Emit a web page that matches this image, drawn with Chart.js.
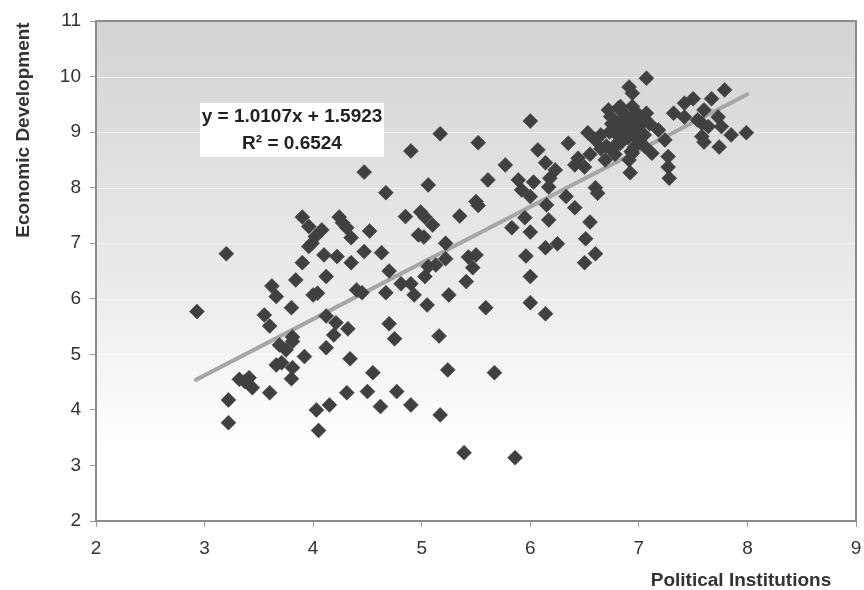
<!DOCTYPE html>
<html>
<head>
<meta charset="utf-8">
<script src="https://cdn.jsdelivr.net/npm/chart.js@4.4.0/dist/chart.umd.min.js"></script>
<style>
  html, body { margin: 0; padding: 0; background: #fff; }
  #wrap { width: 864px; height: 590px; position: relative; }
</style>
</head>
<body>
<div id="wrap"><canvas id="myChart" width="864" height="590"></canvas></div>
<script>
// political institutions (x) and economic development (y)
const polInst = [
    2.93, 3.20, 3.22, 3.22, 3.32, 3.37, 3.41, 3.44, 3.55, 3.60, 3.60, 3.62, 3.66, 3.66, 3.69, 3.71, 3.75, 3.80, 3.80, 3.81,
    3.81, 3.81, 3.84, 3.90, 3.90, 3.92, 3.96, 3.96, 3.99, 4.00, 4.03, 4.04, 4.05, 4.08, 4.02, 4.10, 4.12, 4.12, 4.12, 4.15,
    4.19, 4.21, 4.22, 4.24, 4.27, 4.31, 4.35, 4.32, 4.34, 4.31, 4.35, 4.40, 4.45, 4.47, 4.47, 4.50, 4.52, 4.55, 4.62, 4.63,
    4.67, 4.67, 4.70, 4.70, 4.75, 4.77, 4.81, 4.85, 4.90, 4.90, 4.90, 4.93, 4.99, 4.97, 5.02, 5.03, 5.03, 5.05, 5.06, 5.06,
    5.10, 5.13, 5.16, 5.17, 5.17, 5.22, 5.22, 5.24, 5.25, 5.35, 5.39, 5.41, 5.43, 5.47, 5.50, 5.50, 5.52, 5.52, 5.59, 5.61,
    5.67, 5.77, 5.83, 5.86, 5.89, 5.92, 5.95, 5.96, 6.00, 6.00, 6.00, 6.00, 6.00, 6.03, 6.07, 6.14, 6.14, 6.14, 6.17, 6.17,
    6.18, 6.15, 6.23, 6.25, 6.33, 6.35, 6.41, 6.41, 6.44, 6.50, 6.50, 6.51, 6.55, 6.55, 6.53, 6.60, 6.60, 6.62, 6.60, 6.69,
    6.72, 6.73, 6.74, 6.75, 6.78, 6.81, 6.83, 6.83, 6.84, 6.84, 6.88, 6.91, 6.91, 6.91, 6.92, 6.93, 6.94, 6.94, 6.94, 6.96,
    6.96, 7.07, 7.07, 7.12, 7.18, 7.24, 7.27, 7.27, 7.28, 7.32, 7.42, 7.42, 7.50, 7.54, 7.58, 7.58, 7.60, 7.60, 7.64, 7.67,
    7.73, 7.74, 7.76, 7.79, 7.85, 7.99, 6.80, 6.85, 6.90, 6.95, 7.00, 7.05, 6.75, 7.02, 6.70, 6.65, 6.80, 7.00, 6.88, 7.10,
    6.98, 6.65, 6.78, 7.05
];
const econDev = [
    5.77, 6.81, 4.18, 3.77, 4.55, 4.51, 4.58, 4.40, 5.71, 5.51, 4.31, 6.23, 6.04, 4.81, 5.17, 4.85, 5.08, 5.84, 4.56, 5.31,
    5.23, 4.76, 6.34, 6.65, 7.47, 4.96, 7.30, 6.94, 7.00, 6.07, 4.00, 6.10, 3.63, 7.24, 7.12, 6.79, 6.40, 5.69, 5.12, 4.09,
    5.35, 5.57, 6.76, 7.47, 7.37, 7.28, 7.10, 5.46, 4.92, 4.31, 6.65, 6.16, 6.11, 8.28, 6.85, 4.33, 7.22, 4.67, 4.06, 6.83,
    7.91, 6.11, 6.50, 5.55, 5.28, 4.33, 6.27, 7.48, 8.66, 6.27, 4.09, 6.07, 7.56, 7.15, 7.11, 7.47, 6.40, 5.89, 8.05, 6.58,
    7.33, 6.61, 5.33, 8.97, 3.91, 7.00, 6.72, 4.72, 6.07, 7.49, 3.23, 6.31, 6.75, 6.56, 6.79, 7.75, 7.68, 8.81, 5.84, 8.14,
    4.67, 8.41, 7.28, 3.14, 8.14, 7.96, 7.46, 6.77, 9.20, 7.84, 7.20, 6.40, 5.93, 8.10, 8.68, 8.45, 6.92, 5.73, 8.01, 7.42,
    8.17, 7.69, 8.32, 6.99, 7.84, 8.80, 7.64, 8.41, 8.53, 8.37, 6.65, 7.08, 7.38, 8.60, 8.99, 8.86, 8.00, 7.90, 6.81, 8.50,
    9.40, 9.00, 9.28, 8.68, 8.99, 9.43, 9.46, 8.80, 9.22, 8.86, 9.30, 9.81, 9.10, 8.50, 8.27, 8.65, 9.70, 9.46, 8.62, 8.99,
    8.73, 9.97, 9.34, 8.62, 9.04, 8.86, 8.56, 8.37, 8.17, 9.34, 9.52, 9.27, 9.60, 9.22, 9.16, 8.92, 9.40, 8.82, 9.10, 9.60,
    9.27, 8.73, 9.10, 9.76, 8.95, 8.99, 9.10, 9.00, 8.90, 9.20, 9.10, 8.95, 9.15, 9.25, 8.75, 8.70, 8.80, 8.85, 9.05, 9.15,
    9.35, 8.95, 8.60, 8.75
];
// linear trend line y = 1.0107x + 1.5923, end points
const trendX = [2.92, 8.0];
const trendY = [4.54, 9.68];
const eqText = ['y = 1.0107x + 1.5923', 'R² = 0.6524'];
const xTitle = 'Political Institutions';
const yTitle = 'Economic Development';

const FONT = "'Liberation Sans', Arial, sans-serif";

const points = polInst.map((x, i) => ({ x: x, y: econDev[i] }));
const trend = trendX.map((x, i) => ({ x: x, y: trendY[i] }));

// gray gradient plot area, frame, equation box and axis titles
const decor = {
    id: 'decor',
    beforeDatasetsDraw(chart) {
        const { ctx, chartArea: a } = chart;
        ctx.save();
        const g = ctx.createLinearGradient(0, a.top, 0, a.bottom);
        g.addColorStop(0, '#d3d3d3');
        g.addColorStop(0.55, '#ececec');
        g.addColorStop(0.85, '#ffffff');
        g.addColorStop(1, '#ffffff');
        ctx.fillStyle = g;
        ctx.fillRect(a.left, a.top, a.right - a.left, a.bottom - a.top);
        // faint lines at every y tick
        const ys = chart.scales.y;
        ctx.strokeStyle = 'rgba(255,255,255,0.5)';
        ctx.lineWidth = 1;
        ys.ticks.forEach(t => {
            const py = Math.round(ys.getPixelForValue(t.value)) + 0.5;
            ctx.beginPath();
            ctx.moveTo(a.left, py);
            ctx.lineTo(a.right, py);
            ctx.stroke();
        });
        ctx.strokeStyle = '#8c8c8c';
        ctx.lineWidth = 2;
        ctx.strokeRect(a.left, a.top, a.right - a.left, a.bottom - a.top);
        ctx.restore();
    },
    afterDatasetsDraw(chart) {
        const { ctx } = chart;
        ctx.save();
        // equation label
        ctx.fillStyle = '#ffffff';
        ctx.fillRect(200, 103, 184, 54);
        ctx.fillStyle = '#222';
        ctx.font = 'bold 19px ' + FONT;
        ctx.textAlign = 'center';
        ctx.textBaseline = 'middle';
        ctx.fillText(eqText[0], 292, 117);
        ctx.fillText(eqText[1], 292, 144);
        // axis titles
        ctx.fillStyle = '#333';
        ctx.fillText(xTitle, 741, 581);
        ctx.translate(24, 130);
        ctx.rotate(-Math.PI / 2);
        ctx.fillText(yTitle, 0, 0);
        ctx.restore();
    }
};

new Chart(document.getElementById('myChart'), {
    type: 'scatter',
    data: {
        datasets: [{
            label: 'data',
            data: points,
            pointStyle: 'rectRot',
            radius: 7.5,
            hoverRadius: 7.5,
            backgroundColor: '#404040',
            borderColor: '#404040',
            borderWidth: 0.5,
            order: 1
        }, {
            label: 'trend',
            type: 'line',
            data: trend,
            borderColor: '#a6a6a6',
            borderWidth: 4,
            borderCapStyle: 'round',
            pointRadius: 0,
            fill: false,
            order: 2
        }]
    },
    options: {
        responsive: false,
        animation: false,
        layout: { padding: { top: 21, right: -3, left: 0, bottom: 0 } },
        plugins: {
            legend: { display: false },
            tooltip: { enabled: false }
        },
        scales: {
            x: {
                type: 'linear',
                min: 2,
                max: 9,
                ticks: { stepSize: 1, color: '#333', padding: 10, font: { family: FONT, size: 19 } },
                grid: { drawOnChartArea: false, tickLength: 6, tickColor: '#999' },
                border: { display: false },
                afterFit(scale) {
                    scale.height = 69;
                    scale.paddingRight = 5;
                    scale.paddingLeft = 0;
                }
            },
            y: {
                type: 'linear',
                min: 2,
                max: 11,
                ticks: { stepSize: 1, color: '#333', padding: 9, font: { family: FONT, size: 19 } },
                grid: { drawOnChartArea: false, tickLength: 6, tickColor: '#999' },
                border: { display: false },
                afterFit(scale) {
                    scale.width = 96;
                    scale.paddingTop = 0;
                    scale.paddingBottom = 0;
                }
            }
        }
    },
    plugins: [decor]
});
</script>
</body>
</html>
